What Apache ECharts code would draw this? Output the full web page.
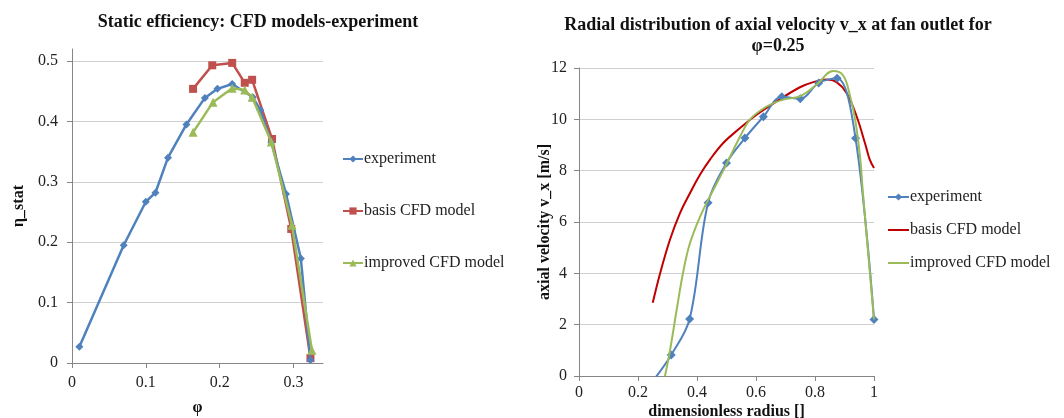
<!DOCTYPE html>
<html>
<head>
<meta charset="utf-8">
<script src="https://cdn.jsdelivr.net/npm/echarts@6/dist/echarts.min.js"></script>
<style>html,body{margin:0;padding:0;background:#fff}#c{width:1064px;height:418px}</style>
</head>
<body>
<div id="c"></div>
<script>
// ---- Left chart: static efficiency ----
const phiExp = [0.010, 0.070, 0.100, 0.113, 0.130, 0.155, 0.180, 0.197, 0.217, 0.245, 0.255, 0.270, 0.290, 0.310, 0.323];
const etaExp = [0.027, 0.195, 0.267, 0.282, 0.340, 0.395, 0.439, 0.454, 0.462, 0.440, 0.419, 0.365, 0.280, 0.173, 0.005];
const phiBasis = [0.164, 0.190, 0.217, 0.234, 0.244, 0.271, 0.297, 0.323];
const etaBasis = [0.454, 0.493, 0.497, 0.464, 0.469, 0.371, 0.222, 0.008];
const phiImp = [0.164, 0.191, 0.217, 0.234, 0.244, 0.270, 0.298, 0.325];
const etaImp = [0.382, 0.432, 0.455, 0.452, 0.440, 0.366, 0.228, 0.021];
const phiTicks = [0, 0.1, 0.2, 0.3];
const etaTicks = [0, 0.1, 0.2, 0.3, 0.4, 0.5];

// ---- Right chart: radial distribution of axial velocity ----
const rExp = [0.25, 0.3125, 0.375, 0.4375, 0.5, 0.5625, 0.625, 0.6875, 0.75, 0.8125, 0.875, 0.9375, 1.0];
const vExp = [-0.2, 0.82, 2.22, 6.75, 8.3, 9.27, 10.1, 10.88, 10.8, 11.42, 11.6, 9.26, 2.2];
const rBasis = [0.25, 0.275, 0.308, 0.342, 0.376, 0.41, 0.444, 0.489, 0.546, 0.602, 0.67, 0.749, 0.794, 0.84, 0.873, 0.907, 0.941, 0.97, 0.985, 1.0];
const vBasis = [2.85, 4.0, 5.3, 6.34, 7.12, 7.84, 8.43, 9.08, 9.66, 10.18, 10.7, 11.25, 11.45, 11.55, 11.45, 11.03, 10.12, 9.05, 8.45, 8.1];
const rImp = [0.2915, 0.3085, 0.331, 0.354, 0.376, 0.41, 0.444, 0.489, 0.546, 0.58, 0.636, 0.693, 0.749, 0.806, 0.862, 0.896, 0.919, 0.936, 0.953, 0.962, 1.0];
const vImp = [0.0, 1.0, 2.57, 4.1, 5.17, 6.2, 7.0, 8.0, 9.33, 10.0, 10.5, 10.77, 10.9, 11.36, 11.88, 11.7, 10.9, 10.0, 8.5, 7.2, 2.2];

const pairs = (xs, ys) => xs.map((x, i) => [x, ys[i]]);
const FONT = "'Liberation Serif','Times New Roman',serif";
const C_BLUE = '#4F81BD', C_RED = '#C0504D', C_DRED = '#C00000', C_GREEN = '#9BBB59';
const axisLineGray = '#868686', gridGray = '#D0D0D0';
const txt = {fontFamily: FONT, fontSize: 16, color: '#222'};

function valAxis(extra) {
  return Object.assign({
    type: 'value',
    nameMoveOverlap: false,
    axisLine: {show: true, lineStyle: {color: axisLineGray, width: 1}},
    axisTick: {show: true, inside: false, length: 5, lineStyle: {color: axisLineGray}},
    axisLabel: Object.assign({margin: 10}, txt),
    nameTextStyle: {fontFamily: FONT, fontSize: 16, fontWeight: 'bold', color: '#111'},
    nameLocation: 'middle'
  }, extra);
}

const hideSym = {opacity: 0, color: 'rgba(0,0,0,0)', borderWidth: 0};

const chart = echarts.init(document.getElementById('c'), null, {renderer: 'canvas'});
chart.setOption({
  animation: false,
  backgroundColor: '#fff',
  title: [
    {text: 'Static efficiency: CFD models-experiment', left: 253, top: 8, textAlign: 'center',
     textStyle: {fontFamily: FONT, fontSize: 18, fontWeight: 'bold', color: '#111'}},
    {text: 'Radial distribution of axial velocity v_x at fan outlet for\nφ=0.25', left: 773, top: 10, textAlign: 'center',
     textStyle: {fontFamily: FONT, fontSize: 18, fontWeight: 'bold', color: '#111', lineHeight: 21}}
  ],
  grid: [
    {left: 72, top: 49, width: 251, height: 314, containLabel: false, outerBoundsMode: 'none'},
    {left: 579, top: 68, width: 295, height: 308, containLabel: false, outerBoundsMode: 'none'}
  ],
  xAxis: [
    valAxis({gridIndex: 0, min: 0, max: 0.34, interval: 0.1, name: 'φ', nameGap: 37,
      splitLine: {show: false},
      axisTick: {show: true, length: 5, lineStyle: {color: axisLineGray}, customValues: phiTicks},
      axisLabel: Object.assign({margin: 12, customValues: phiTicks}, txt)}),
    valAxis({gridIndex: 1, min: 0, max: 1, interval: 0.2, name: 'dimensionless radius []', nameGap: 28,
      splitLine: {show: false},
      axisLabel: Object.assign({margin: 9}, txt)})
  ],
  yAxis: [
    valAxis({gridIndex: 0, min: 0, max: 0.52, interval: 0.1, name: 'η_stat', nameGap: 45,
      splitLine: {show: true, lineStyle: {color: gridGray, width: 1}},
      axisTick: {show: true, length: 5, lineStyle: {color: axisLineGray}, customValues: etaTicks},
      axisLabel: Object.assign({margin: 14, customValues: etaTicks}, txt)}),
    valAxis({gridIndex: 1, min: 0, max: 12, interval: 2, name: 'axial velocity v_x [m/s]', nameGap: 26,
      splitLine: {show: true, lineStyle: {color: gridGray, width: 1}},
      axisLabel: Object.assign({margin: 12}, txt)})
  ],
  legend: [
    {orient: 'vertical', left: 342, top: 151, padding: 0, itemGap: 36, itemWidth: 20, itemHeight: 9,
     textStyle: {fontFamily: FONT, fontSize: 16, color: '#222', padding: [0, 0, 0, -4]},
     data: ['experiment', 'basis CFD model', 'improved CFD model']},
    {orient: 'vertical', left: 887, top: 189, padding: 0, itemGap: 17, itemWidth: 21, itemHeight: 9,
     textStyle: {fontFamily: FONT, fontSize: 16, color: '#222', padding: [0, 0, 0, -4]},
     data: ['experiment ',
            {name: 'basis CFD model ', itemStyle: hideSym},
            {name: 'improved CFD model ', itemStyle: hideSym}]}
  ],
  series: [
    {name: 'experiment', type: 'line', xAxisIndex: 0, yAxisIndex: 0, data: pairs(phiExp, etaExp),
     symbol: 'diamond', symbolSize: 8, color: C_BLUE, lineStyle: {width: 2.5, color: C_BLUE}, z: 3},
    {name: 'basis CFD model', type: 'line', xAxisIndex: 0, yAxisIndex: 0, data: pairs(phiBasis, etaBasis),
     symbol: 'rect', symbolSize: 8, color: C_RED, lineStyle: {width: 2.5, color: C_RED}, z: 2},
    {name: 'improved CFD model', type: 'line', xAxisIndex: 0, yAxisIndex: 0, data: pairs(phiImp, etaImp),
     symbol: 'triangle', symbolSize: 9, color: C_GREEN, lineStyle: {width: 2.5, color: C_GREEN}, z: 4},
    {name: 'experiment ', type: 'line', xAxisIndex: 1, yAxisIndex: 1, data: pairs(rExp, vExp),
     smooth: 0.35, clip: true, symbol: 'diamond', symbolSize: 9, color: C_BLUE, lineStyle: {width: 2, color: C_BLUE}, z: 3},
    {name: 'basis CFD model ', type: 'line', xAxisIndex: 1, yAxisIndex: 1, data: pairs(rBasis, vBasis),
     smooth: 0.4, clip: true, showSymbol: false, symbol: 'none', color: C_DRED, lineStyle: {width: 2, color: C_DRED}, z: 2},
    {name: 'improved CFD model ', type: 'line', xAxisIndex: 1, yAxisIndex: 1, data: pairs(rImp, vImp),
     smooth: 0.4, clip: true, showSymbol: false, symbol: 'none', color: C_GREEN, lineStyle: {width: 2, color: C_GREEN}, z: 4}
  ]
});
</script>
</body>
</html>
